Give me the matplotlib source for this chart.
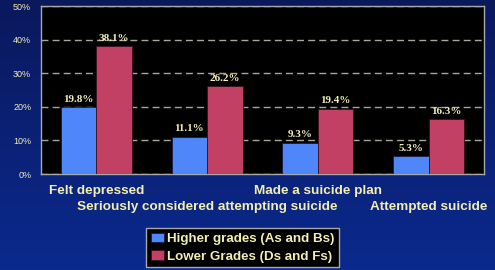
#!/usr/bin/env python3
import matplotlib
matplotlib.use("Agg")
import matplotlib.pyplot as plt
import numpy as np
from matplotlib.colors import LinearSegmentedColormap

# Data
categories = ["Felt depressed", "Seriously considered attempting suicide",
              "Made a suicide plan", "Attempted suicide"]
higher = [19.8, 11.1, 9.3, 5.3]
lower = [38.1, 26.2, 19.4, 16.3]
series_names = ["Higher grades (As and Bs)", "Lower Grades (Ds and Fs)"]
yticks = [0, 10, 20, 30, 40, 50]

TXT = "#f3eeb4"
BLUE = "#4f87fb"
RED = "#c24063"

fig = plt.figure(figsize=(4.95, 2.7), dpi=100)

# gradient background
bg = fig.add_axes([0, 0, 1, 1], zorder=-10)
grad = np.linspace(0, 1, 256).reshape(-1, 1)
cmap = LinearSegmentedColormap.from_list("bg", ["#0a185c", "#0b2a8e"])
bg.imshow(grad, aspect="auto", cmap=cmap, extent=[0, 1, 0, 1], origin="upper")
bg.axis("off")

ax = fig.add_axes([41 / 495, 1 - 174 / 270, 443 / 495, 168 / 270])
ax.set_facecolor("black")

x = np.arange(len(categories))
w = 0.32
b1 = ax.bar(x - w / 2, higher, w, color=BLUE, edgecolor="#1a1a40", linewidth=0.6,
            label=series_names[0], zorder=3)
b2 = ax.bar(x + w / 2, lower, w, color=RED, edgecolor="#3a1020", linewidth=0.6,
            label=series_names[1], zorder=3)

for bars, vals in ((b1, higher), (b2, lower)):
    for rect, v in zip(bars, vals):
        ax.text(rect.get_x() + rect.get_width() / 2, v + 1.0, f"{v}%",
                ha="center", va="bottom", color=TXT, fontsize=8,
                fontweight="bold", family="Liberation Serif", zorder=4)

ax.set_xlim(-0.5, len(categories) - 0.5)
ax.set_ylim(0, 50)
ax.set_yticks(yticks)
ax.set_yticklabels([f"{t}%" for t in yticks], color=TXT, fontsize=6.5,
                   family="Liberation Sans")
ax.yaxis.grid(True, color="#a8a898", linestyle=(0, (5, 3)), linewidth=1.0, zorder=1)
ax.tick_params(axis="y", length=0, pad=7)

# staggered category labels
ax.set_xticks(x[::2], labels=categories[::2])
ax.set_xticks(x[1::2], labels=categories[1::2], minor=True)
for lab in ax.get_xticklabels(which="both"):
    lab.set_color(TXT)
    lab.set_fontsize(9.7)
    lab.set_fontweight("bold")
    lab.set_family("Liberation Sans")
ax.tick_params(axis="x", which="major", length=0, pad=8)
ax.tick_params(axis="x", which="minor", length=0, pad=19.5)

for s in ax.spines.values():
    s.set_color("#a8a8a8")
    s.set_linewidth(1.0)

leg = fig.legend(handles=[b1, b2], loc="lower center", bbox_to_anchor=(0.49, 0.0),
                 ncol=1, frameon=True, fancybox=False, handlelength=1.0,
                 handleheight=0.7, handletextpad=0.25, borderpad=0.35,
                 labelspacing=0.4, borderaxespad=0.2,
                 prop={"family": "Liberation Sans", "weight": "bold", "size": 9.6})
leg.get_frame().set_facecolor("black")
leg.get_frame().set_edgecolor("#a8a8a8")
leg.get_frame().set_alpha(1)
for t in leg.get_texts():
    t.set_color(TXT)

fig.savefig("out.png", dpi=100)
